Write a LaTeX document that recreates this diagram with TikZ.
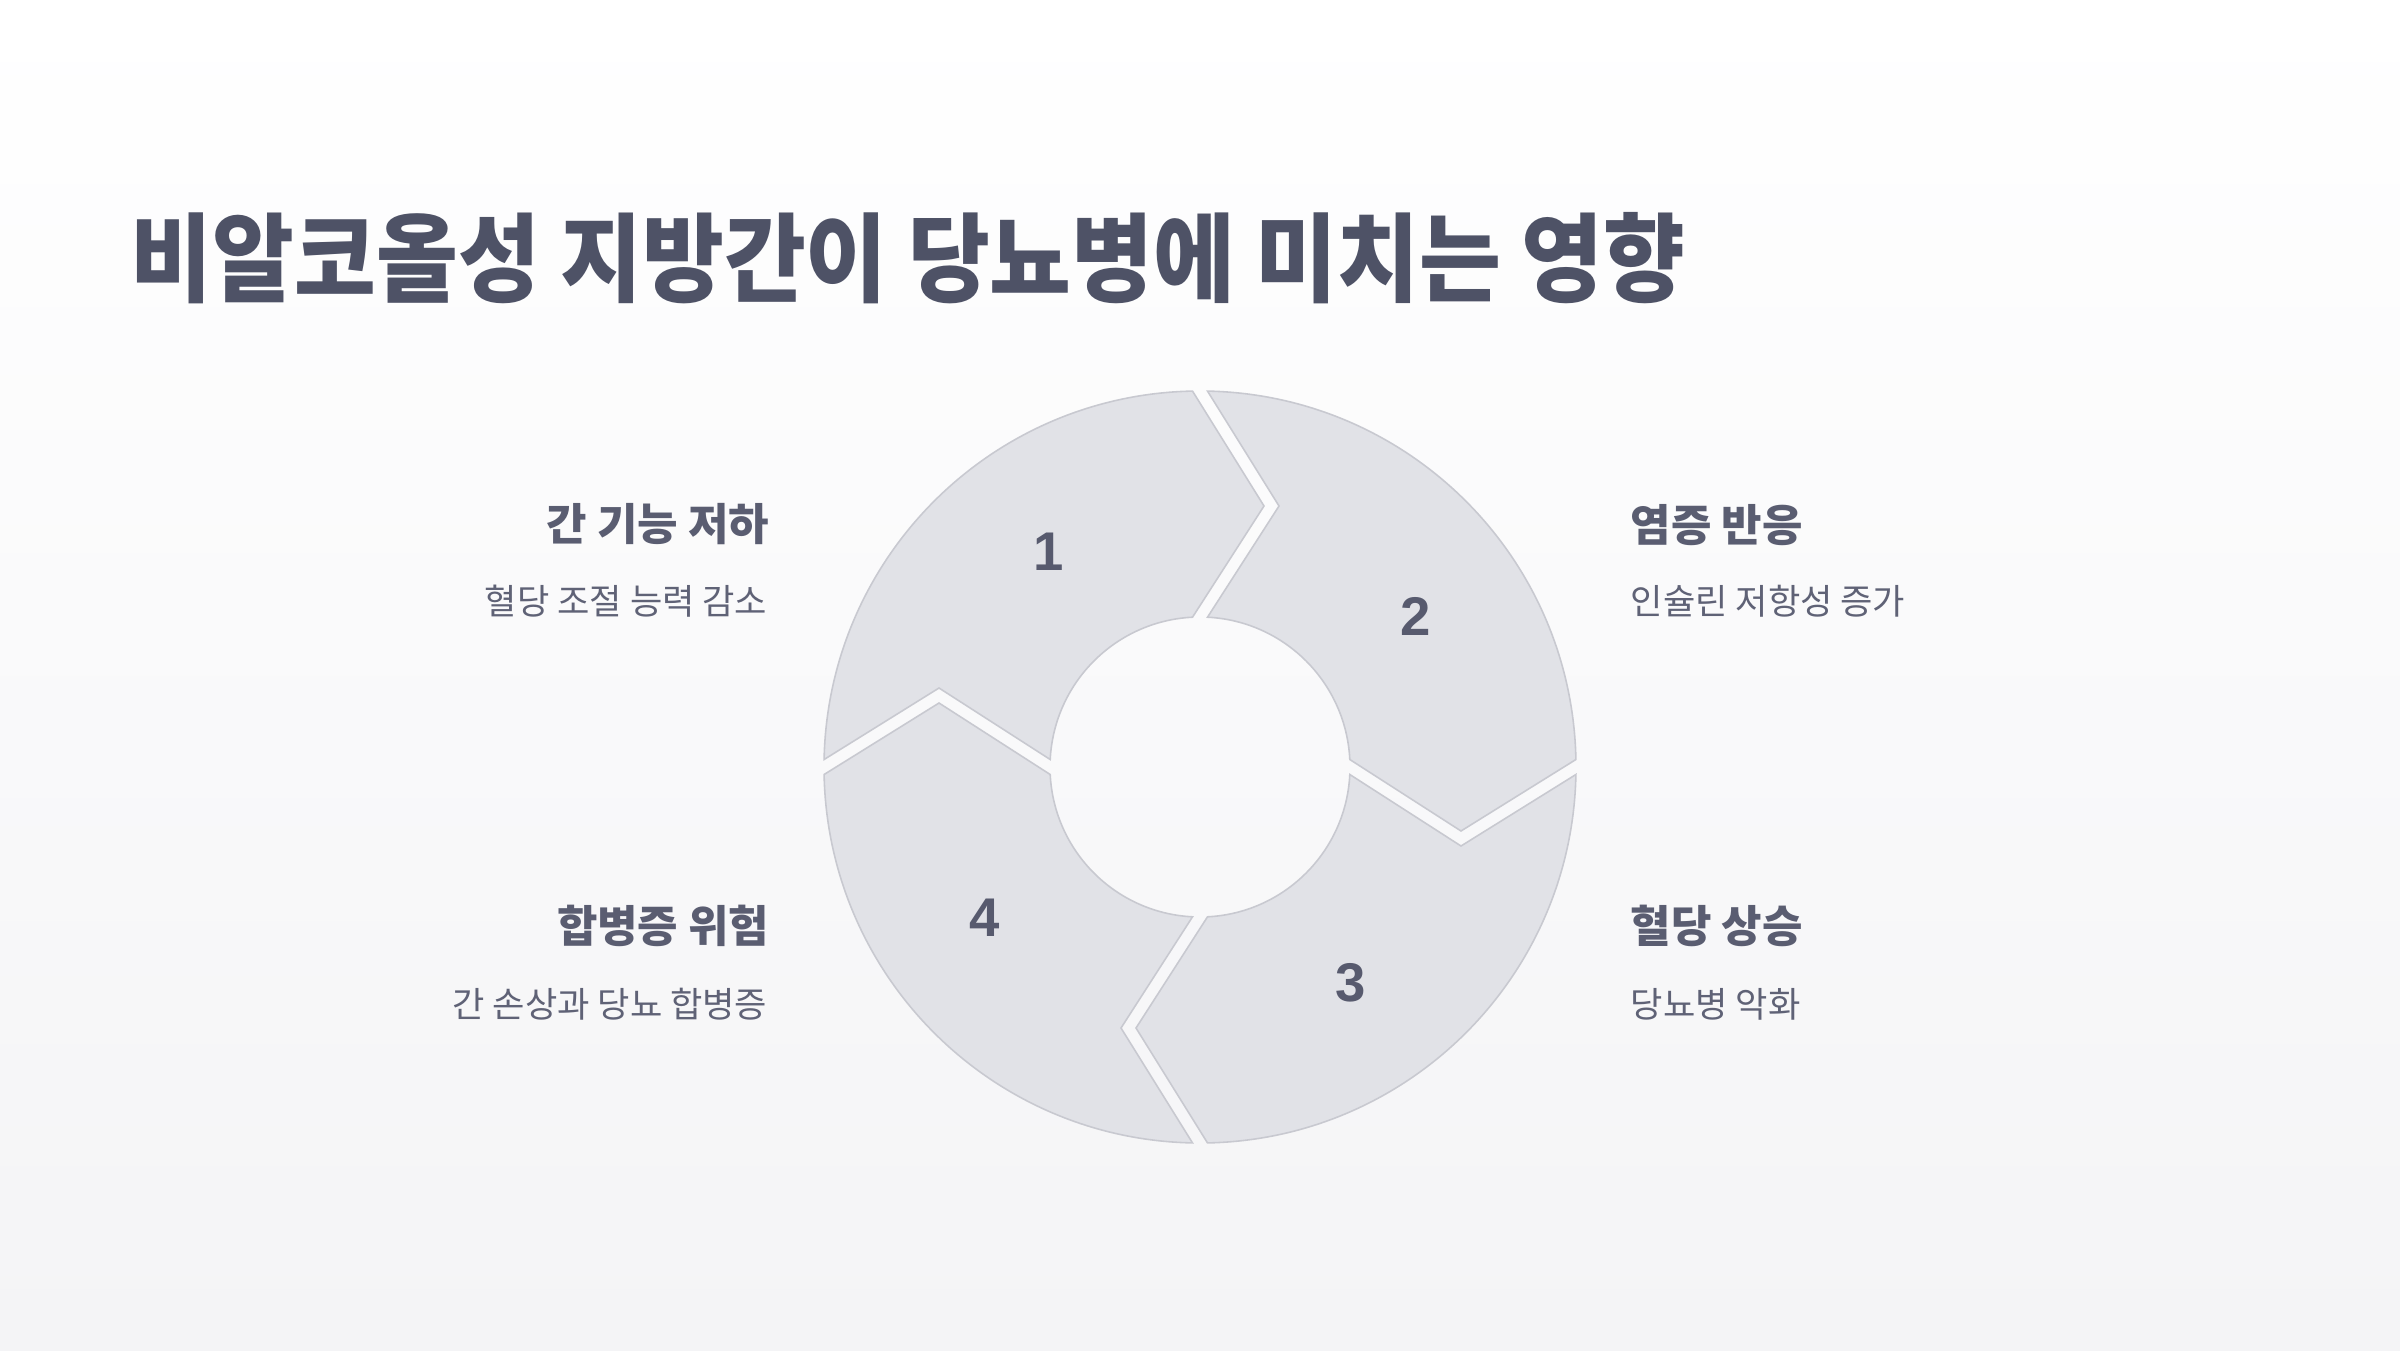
\documentclass[tikz,border=0pt]{standalone}
\usepackage{fontspec}
\setmainfont{Noto Sans CJK KR}
\newfontfamily\titlefont[FakeStretch=0.92]{Noto Sans CJK KR}
\newfontfamily\numfont{Liberation Sans}
\usetikzlibrary{calc}
\definecolor{segfill}{HTML}{E1E2E7}
\definecolor{segline}{HTML}{C8C9D0}
\definecolor{titlec}{HTML}{4E5266}
\definecolor{headc}{HTML}{5A5D71}
\definecolor{subc}{HTML}{5F6276}
\definecolor{numc}{HTML}{575A6E}
\definecolor{bgbot}{HTML}{F4F4F6}
\newcommand\wheelseg[2]{%
 \draw[seg] ($(c)+(#1-1.143:376)$) arc[start angle=#1-1.143,end angle=#2+1.143,radius=376]
 -- ($(c)+(#2:261)+(#2-90:64)$) -- ($(c)+(#2+2.866:150)$)
 arc[start angle=#2+2.866,end angle=#1-2.866,radius=150]
 -- ($(c)+(#1:261)+(#1-90:79)$) -- cycle;}
\begin{document}
\begin{tikzpicture}[x=0.01cm,y=0.01cm,
  seg/.style={fill=segfill,draw=segline,line width=0.45pt,line join=miter},
  num/.style={font=\numfont\bfseries\fontsize{15.5}{18}\selectfont,text=numc,inner sep=0},
  head/.style={font=\bfseries\fontsize{12.5}{15}\selectfont,text=headc,inner sep=0},
  sub/.style={font=\fontsize{10}{12}\selectfont,text=subc,inner sep=0},
  ttl/.style={font=\titlefont\bfseries\fontsize{27.5}{33}\selectfont,text=titlec,inner sep=0,anchor=west}]
\fill[top color=white,bottom color=bgbot] (0,0) rectangle (2400,1350);
\useasboundingbox (0,0) rectangle (2400,1350);
\coordinate (c) at (1200,583);
\wheelseg{180}{90}
\wheelseg{90}{0}
\wheelseg{0}{-90}
\wheelseg{-90}{-180}
\node[num] (n1) at ($(c)+(125.2:263)$) {1};
\node[num] (n2) at ($(c)+(35:263)$) {2};
\node[num] (n3) at ($(c)+(-55:263)$) {3};
\node[num] (n4) at ($(c)+(215:263)$) {4};
\node[ttl] (title) at (130,1092) {비알코올성 지방간이 당뇨병에 미치는 영향};
\node[head,anchor=east] (h1) at (770,825.5) {간 기능 저하};
\node[sub,anchor=east] (s1) at (768,749) {혈당 조절 능력 감소};
\node[head,anchor=west] (h2) at (1630,825) {염증 반응};
\node[sub,anchor=west] (s2) at (1630,749) {인슐린 저항성 증가};
\node[head,anchor=east] (h4) at (770,424) {합병증 위험};
\node[sub,anchor=east] (s4) at (768,346) {간 손상과 당뇨 합병증};
\node[head,anchor=west] (h3) at (1630,424) {혈당 상승};
\node[sub,anchor=west] (s3) at (1630,346) {당뇨병 악화};
\end{tikzpicture}
\end{document}
